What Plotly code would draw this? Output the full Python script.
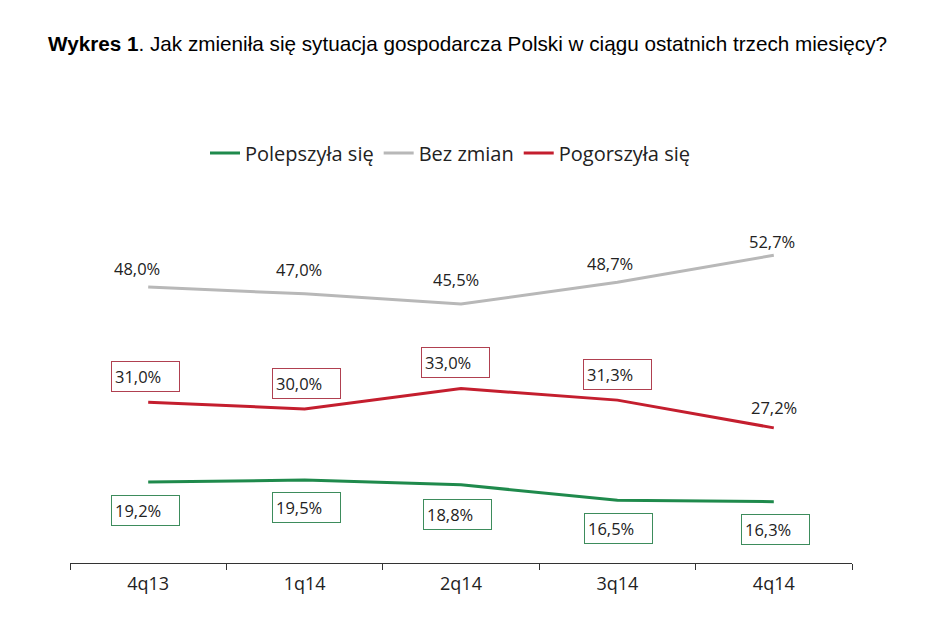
import plotly.graph_objects as go

# dane z wykresu
quarters = ["4q13", "1q14", "2q14", "3q14", "4q14"]
better = [19.2, 19.5, 18.8, 16.5, 16.3]
same = [48.0, 47.0, 45.5, 48.7, 52.7]
worse = [31.0, 30.0, 33.0, 31.3, 27.2]

GREEN = "#1f8a4c"
GRAY = "#b8b8b8"
RED = "#c41e2e"
FONT = "Open Sans"

# label offsets in pixels (dx, dy), dy > 0 means up
same_off = [(-11, 19), (-6, 24), (-5, 24), (-7, 19), (-2, 14)]
worse_off = [(-3, 26), (2, 25), (-6, 26), (0, 26), (0, 20)]
better_off = [(-3, -28.5), (2, -27), (-4, -29.5), (1, -28), (1.5, -27.5)]


def pct(v):
    return f"{v:.1f}%".replace(".", ",")


fig = go.Figure()
for name, vals, color in [
    ("Polepszyła się", better, GREEN),
    ("Bez zmian", same, GRAY),
    ("Pogorszyła się", worse, RED),
]:
    fig.add_trace(go.Scatter(
        x=quarters, y=vals, name=name, mode="lines",
        line=dict(color=color, width=3), hoverinfo="skip",
    ))

label_font = dict(family=FONT, size=16.5, color="#222")
annotations = []
for q, v, (dx, dy) in zip(quarters, same, same_off):
    annotations.append(dict(
        x=q, y=v, text=pct(v), showarrow=False, xshift=dx, yshift=dy,
        font=label_font,
    ))
for i, (q, v, (dx, dy)) in enumerate(zip(quarters, worse, worse_off)):
    boxed = i < len(quarters) - 1
    annotations.append(dict(
        x=q, y=v, text=pct(v), showarrow=False, xshift=dx, yshift=dy,
        font=label_font,
        align="left", width=61 if boxed else None, height=23 if boxed else None,
        bordercolor="#b04050" if boxed else None, borderwidth=1 if boxed else 0,
        borderpad=3,
    ))
for q, v, (dx, dy) in zip(quarters, better, better_off):
    annotations.append(dict(
        x=q, y=v, text=pct(v), showarrow=False, xshift=dx, yshift=dy,
        font=label_font,
        align="left", width=61, height=23,
        bordercolor="#3d8c5c", borderwidth=1, borderpad=3,
    ))

# the page adds an 8px body margin, so positions below are shifted by 8px
fig.update_layout(
    width=945, height=643,
    margin=dict(l=62, r=101, t=192, b=88),
    plot_bgcolor="white", paper_bgcolor="white",
    font=dict(family=FONT, color="#222"),
    title=dict(
        text="<b>Wykres 1</b>. Jak zmieniła się sytuacja gospodarcza Polski w ciągu ostatnich trzech miesięcy?",
        xref="container", yref="container", x=40 / 945, y=1 - 36 / 643,
        xanchor="left", yanchor="middle",
        font=dict(family="Liberation Sans, Arial", size=20.7, color="#000"),
    ),
    showlegend=True,
    legend=dict(
        orientation="h", xref="container", yref="container",
        x=442 / 945, y=1 - 145 / 643, xanchor="center", yanchor="middle",
        font=dict(family=FONT, size=20, color="#222"),
        itemwidth=30,
    ),
    annotations=annotations,
)
fig.update_xaxes(
    range=[-0.5, 4.5], showline=True, linecolor="#333", linewidth=1,
    ticks="outside", tickson="boundaries", ticklen=6, tickcolor="#333",
    ticklabelstandoff=4,
    showgrid=False, tickfont=dict(family=FONT, size=18, color="#222"),
    fixedrange=True,
)
fig.update_yaxes(
    range=[7.24, 60.86], visible=False, showgrid=False, fixedrange=True,
)

fig.write_html("out.html")
